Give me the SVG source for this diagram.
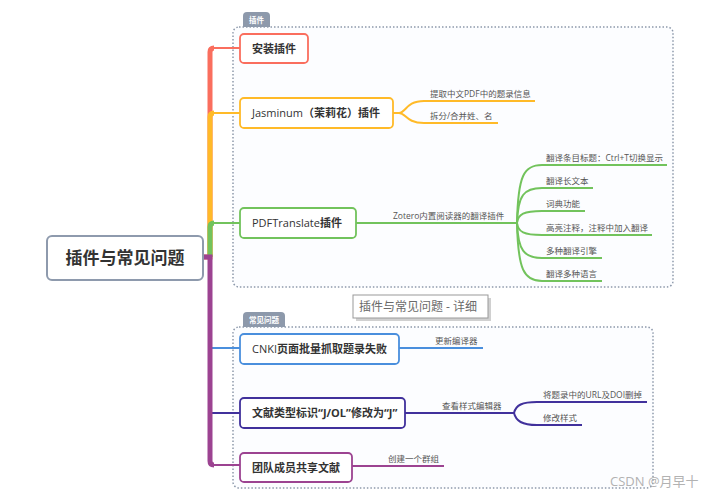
<svg xmlns="http://www.w3.org/2000/svg" width="725" height="498" viewBox="0 0 725 498">
<style>
text{font-family:"Open Sans","Noto Sans CJK SC",sans-serif}
.grp{fill:#fcfdff;stroke:#8d99ab;stroke-width:1.5;stroke-dasharray:1.5 2}
.tab{fill:#8d99ab}
.tabt{fill:#fff;font-size:7.5px;font-weight:bold;text-anchor:middle}
.node{fill:#fff;stroke-width:1.8}
.nt{fill:#333;font-size:11px}
.b{font-weight:bold}
.leaf{fill:#555;font-size:8.5px}
.ln{fill:none;stroke-width:2}
.trunk{fill:none;stroke-width:5}
.red{stroke:#fa6e5e}.org{stroke:#ffba28}.grn{stroke:#72c35c}.blu{stroke:#4a8fdd}.nav{stroke:#41319c}.pur{stroke:#9c4391}
</style>

<g id="group-plugins">
<rect class="grp" x="233" y="27" width="440" height="260" rx="6"/>
<path class="tab" d="M243,27 V16 Q243,12 247,12 H266 Q270,12 270,16 V27 Z"/>
<text class="tabt" x="256.5" y="23">插件</text>
</g>
<g id="group-faq">
<rect class="grp" x="233" y="327" width="420" height="161" rx="6"/>
<path class="tab" d="M243,327 V316 Q243,312 247,312 H281 Q285,312 285,316 V327 Z"/>
<text class="tabt" x="264" y="323">常见问题</text>
</g>

<g id="connectors">
<!-- trunk branches -->
<path class="trunk red" d="M203,257 H210 V52 Q210,48 214,48"/>
<path class="ln red" d="M212,48 H240"/>
<path class="trunk org" d="M210,257 V117 Q210,113 214,113"/>
<path class="ln org" d="M212,113 H240"/>
<path class="trunk grn" d="M210,257 V227 Q210,223 214,223"/>
<path class="ln grn" d="M212,223 H240"/>
<path class="ln blu" d="M212,348 H240"/>
<path class="ln nav" d="M212,413 H240"/>
<path class="trunk pur" d="M203,257 H210 V461 Q210,465 214,465"/>
<path class="ln pur" d="M212,465 H240"/>

<!-- Jasminum leaves -->
<path class="ln org" d="M393,113 H399 C406,113 406,101 424,101 H535"/>
<path class="ln org" d="M393,113 H399 C406,113 406,123 424,123 H498"/>

<!-- PDFTranslate -->
<path class="ln grn" d="M356,223 H517"/>
<path class="ln grn" d="M517,223 C518,175 524,165 542,165 H667"/>
<path class="ln grn" d="M517,223 C518,195 524,188 542,188 H593"/>
<path class="ln grn" d="M517,223 C518,214 524,211 542,211 H585"/>
<path class="ln grn" d="M517,223 C518,232 524,235 542,235 H652"/>
<path class="ln grn" d="M517,223 C518,250 524,258 542,258 H602"/>
<path class="ln grn" d="M517,223 C518,270 524,281 542,281 H602"/>

<!-- FAQ -->
<path class="ln blu" d="M399,348 H483"/>
<path class="ln nav" d="M405,413 H514"/>
<path class="ln nav" d="M514,413 C516,405 522,402 537,402 H647"/>
<path class="ln nav" d="M514,413 C516,421 522,425 537,425 H582"/>
<path class="ln pur" d="M352,466 H444"/>
</g>

<g id="root">
<rect x="47" y="236" width="156" height="44" rx="5" fill="#fff" stroke="#8e9aad" stroke-width="2"/>
<text x="125" y="264" text-anchor="middle" fill="#333" font-size="17" font-weight="bold">插件与常见问题</text>
</g>

<g id="n-install">
<rect class="node red" x="240" y="34" width="68" height="29" rx="4"/>
<text class="nt b" x="252" y="52.5">安装插件</text>
</g>
<g id="n-jasminum">
<rect class="node org" x="240" y="98" width="153" height="30" rx="4"/>
<text class="nt" x="252" y="117">Jasminum<tspan class="b">（茉莉花）插件</tspan></text>
</g>
<g id="n-pdftranslate">
<rect class="node grn" x="240" y="208" width="116" height="30" rx="4"/>
<text class="nt" x="252" y="227">PDFTranslate<tspan class="b">插件</tspan></text>
</g>
<g id="n-cnki">
<rect class="node blu" x="240" y="334" width="159" height="30" rx="4"/>
<text class="nt" x="252" y="353">CNKI<tspan class="b">页面批量抓取题录失败</tspan></text>
</g>
<g id="n-type">
<rect class="node nav" x="240" y="398" width="165" height="30" rx="4"/>
<text class="nt b" x="252" y="417">文献类型标识“J/OL”修改为“J”</text>
</g>
<g id="n-team">
<rect class="node pur" x="240" y="453" width="112" height="29" rx="4"/>
<text class="nt b" x="252" y="471.5">团队成员共享文献</text>
</g>

<g id="leaves">
<text class="leaf" x="430" y="97">提取中文PDF中的题录信息</text>
<text class="leaf" x="430" y="119">拆分/合并姓、名</text>
<text class="leaf" x="393" y="219">Zotero内置阅读器的翻译插件</text>
<text class="leaf" x="546" y="161">翻译条目标题：Ctrl+T切换显示</text>
<text class="leaf" x="546" y="184">翻译长文本</text>
<text class="leaf" x="546" y="207">词典功能</text>
<text class="leaf" x="546" y="231">高亮注释，注释中加入翻译</text>
<text class="leaf" x="546" y="254">多种翻译引擎</text>
<text class="leaf" x="546" y="277">翻译多种语言</text>
<text class="leaf" x="435" y="344">更新编译器</text>
<text class="leaf" x="442" y="409">查看样式编辑器</text>
<text class="leaf" x="543" y="398">将题录中的URL及DOI删掉</text>
<text class="leaf" x="543" y="421">修改样式</text>
<text class="leaf" x="388" y="462">创建一个群组</text>
</g>

<g id="summary-label">
<rect x="356" y="298" width="135" height="23" fill="#d0d0d0"/>
<rect x="353" y="295" width="135" height="23" fill="#fff" stroke="#999" stroke-width="1"/>
<text x="359" y="311" fill="#6a6a6a" font-size="12">插件与常见问题 - 详细</text>
</g>

<text x="610" y="486" fill="#aaa" font-size="13" opacity="0.9">CSDN @月早十</text>
</svg>
